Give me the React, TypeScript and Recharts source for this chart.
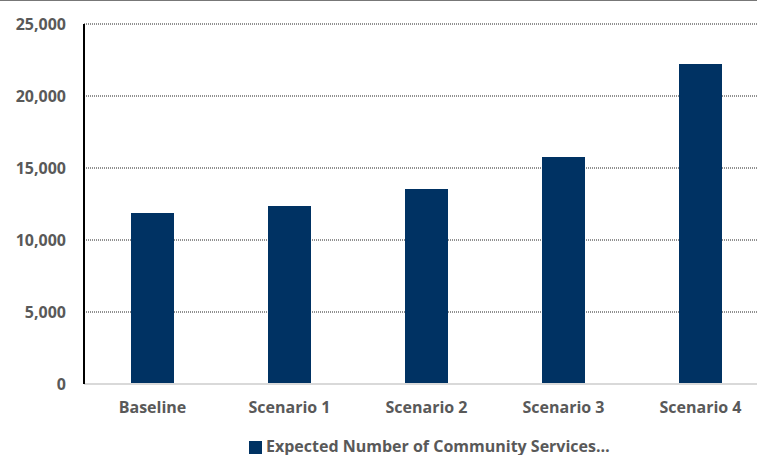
import React from 'react';
import { BarChart, Bar, XAxis, YAxis, CartesianGrid, Legend } from 'recharts';

const categories = ['Baseline', 'Scenario 1', 'Scenario 2', 'Scenario 3', 'Scenario 4'];
const services = [11875, 12360, 13540, 15760, 22220];
const yTicks = [0, 5000, 10000, 15000, 20000, 25000];

const data = categories.map((name, i) => ({ name, value: services[i] }));

const FONT = '"Open Sans", sans-serif';
const GRAY = '#595959';

export default function App() {
  return (
    <div
      style={{
        position: 'absolute',
        left: 0,
        top: 0,
        width: 757,
        height: 455,
        overflow: 'hidden',
        background: '#fff',
        borderTop: '1px solid #777',
        boxSizing: 'border-box',
        fontFamily: FONT,
      }}
    >
      <BarChart
        width={757}
        height={454}
        data={data}
        margin={{ top: 23, right: -12, left: 0, bottom: 0 }}
        barSize={43}
      >
        <CartesianGrid vertical={false} stroke="#222" strokeDasharray="1 1" />
        <XAxis
          dataKey="name"
          axisLine={{ stroke: '#d9d9d9', strokeWidth: 2 }}
          tickLine={false}
          height={51}
          tickMargin={12}
          tick={{ fontSize: 16, fontWeight: 700, fill: GRAY, fontFamily: FONT }}
        />
        <YAxis
          width={84}
          domain={[0, 25000]}
          ticks={yTicks}
          interval={0}
          axisLine={{ stroke: '#000', strokeWidth: 2 }}
          tickLine={false}
          tickMargin={12}
          tickFormatter={(v: number) => v.toLocaleString('en-US')}
          tick={{ fontSize: 16, fontWeight: 700, fill: GRAY, fontFamily: FONT }}
        />
        <Legend
          verticalAlign="bottom"
          align="left"
          height={20}
          iconType="square"
          iconSize={13}
          wrapperStyle={{ left: 249, width: 480 }}
          formatter={() => (
            <span style={{ color: GRAY, fontSize: 16, fontWeight: 700, fontFamily: FONT }}>
              Expected Number of Community Services…
            </span>
          )}
        />
        <Bar
          dataKey="value"
          name="Expected Number of Community Services Clients"
          fill="#003263"
          isAnimationActive={false}
        />
      </BarChart>
    </div>
  );
}
